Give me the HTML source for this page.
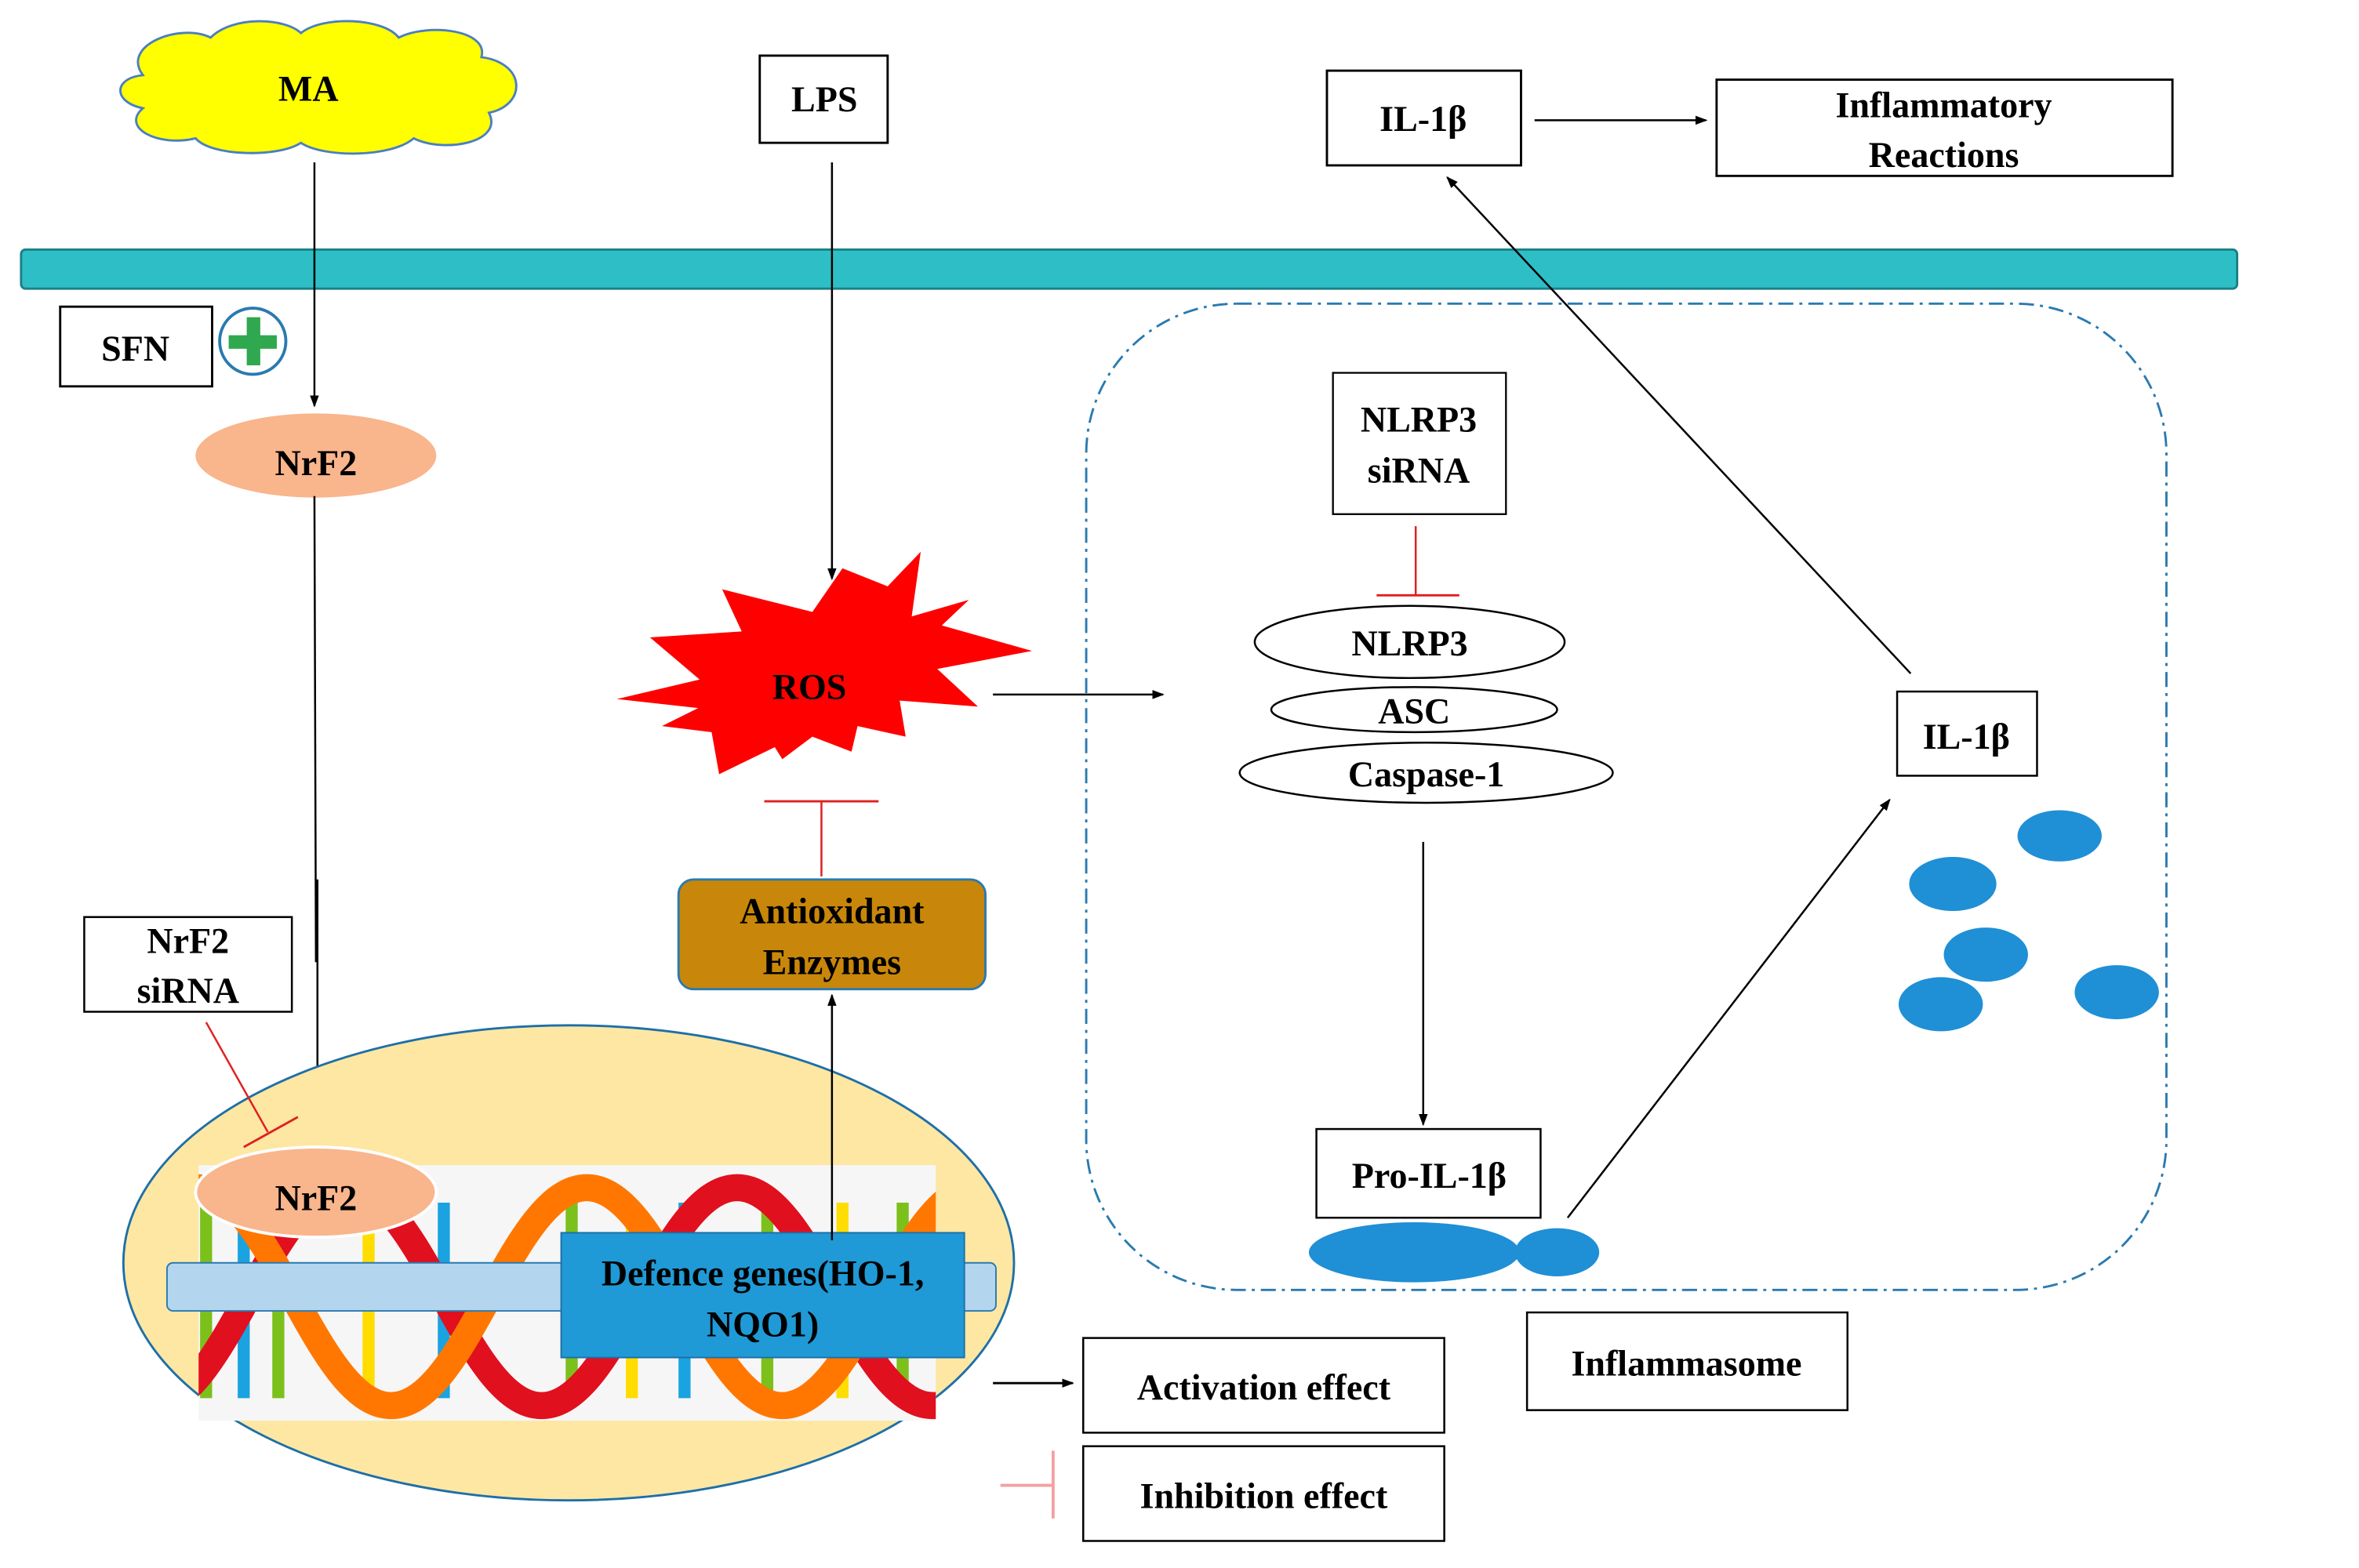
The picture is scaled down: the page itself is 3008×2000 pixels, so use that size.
<!DOCTYPE html>
<html><head><meta charset="utf-8"><style>
html,body{margin:0;padding:0;background:#fff;}
svg{display:block;}
text{font-family:"Liberation Serif","Times New Roman",Times,serif;font-weight:bold;fill:#000;}
</style></head><body>
<svg width="3008" height="2000" viewBox="0 0 1568 1043" preserveAspectRatio="none" xmlns="http://www.w3.org/2000/svg">
<defs>
<marker id="ar" markerWidth="8" markerHeight="8" refX="7" refY="4" orient="auto" markerUnits="userSpaceOnUse"><path d="M0,1 L8,4 L0,7 Z" fill="#000"/></marker>
<clipPath id="dna"><rect x="132" y="775" width="490" height="170"/></clipPath>
</defs>
<rect width="1568" height="1043" fill="#fff"/>

<g fill="#ffff00" stroke="#4a7fc0" stroke-width="1.5">
<path d="M95,50 C80,30 120,15 140,25 C155,10 190,12 200,22 C215,10 255,12 265,25 C285,15 325,20 320,38 C350,42 350,70 325,75 C335,95 295,102 275,92 C260,105 215,105 200,95 C185,105 140,104 130,92 C105,98 80,85 95,72 C75,68 75,52 95,50 Z"/>
</g>
<text x="205" y="67" font-size="24" text-anchor="middle">MA</text>

<rect x="505" y="37" width="85" height="58" fill="#fff" stroke="#000" stroke-width="1.5"/>
<text x="548" y="74" font-size="24" text-anchor="middle">LPS</text>

<rect x="882" y="47" width="129" height="63" fill="#fff" stroke="#000" stroke-width="1.5"/>
<text x="946" y="87" font-size="24" text-anchor="middle">IL-1β</text>
<line x1="1020" y1="80" x2="1134" y2="80" stroke="#000" stroke-width="1.3" marker-end="url(#ar)"/>
<rect x="1141" y="53" width="303" height="64" fill="#fff" stroke="#000" stroke-width="1.5"/>
<text x="1292" y="78" font-size="24" text-anchor="middle">Inflammatory</text>
<text x="1292" y="111" font-size="24" text-anchor="middle">Reactions</text>

<rect x="14" y="166" width="1473" height="26" rx="3" fill="#2ebfc6" stroke="#1a7f86" stroke-width="1.5"/>

<rect x="40" y="204" width="101" height="53" fill="#fff" stroke="#000" stroke-width="1.5"/>
<text x="90" y="240" font-size="24" text-anchor="middle">SFN</text>
<circle cx="168" cy="227" r="22" fill="#fff" stroke="#2a7ab0" stroke-width="2"/>
<rect x="152" y="223" width="32" height="9" fill="#2fa84f"/>
<rect x="164" y="211" width="9" height="32" fill="#2fa84f"/>

<line x1="209" y1="108" x2="209" y2="270" stroke="#000" stroke-width="1.3" marker-end="url(#ar)"/>
<ellipse cx="210" cy="303" rx="80" ry="28" fill="#f9b58c"/>
<text x="210" y="316" font-size="24" text-anchor="middle">NrF2</text>
<line x1="209" y1="330" x2="210" y2="640" stroke="#000" stroke-width="1.3"/>
<line x1="211" y1="585" x2="211" y2="768" stroke="#000" stroke-width="1.3" marker-end="url(#ar)"/>

<line x1="553" y1="108" x2="553" y2="385" stroke="#000" stroke-width="1.3" marker-end="url(#ar)"/>
<polygon fill="#ff0000" points="410,465 465,452 432,424 493,420 480,392 540,407 560,378 590,390 612,367 606,410 644,399 626,416 686,433 623,445 650,470 598,466 602,490 570,483 566,500 540,490 520,505 515,497 478,515 473,487 440,483 464,471" />
<text x="538" y="465" font-size="24" text-anchor="middle">ROS</text>
<line x1="660" y1="462" x2="773" y2="462" stroke="#000" stroke-width="1.3" marker-end="url(#ar)"/>

<rect x="722" y="202" width="718" height="656" rx="100" fill="none" stroke="#2a7ab0" stroke-width="1.5" stroke-dasharray="10,4,2,4"/>
<rect x="886" y="248" width="115" height="94" fill="#fff" stroke="#000" stroke-width="1.2"/>
<text x="943" y="287" font-size="24" text-anchor="middle">NLRP3</text>
<text x="943" y="321" font-size="24" text-anchor="middle">siRNA</text>
<line x1="941" y1="350" x2="941" y2="396" stroke="#e02020" stroke-width="1.3"/>
<line x1="915" y1="396" x2="970" y2="396" stroke="#e02020" stroke-width="1.5"/>
<ellipse cx="937" cy="427" rx="103" ry="24" fill="#fff" stroke="#000" stroke-width="1.3"/>
<text x="937" y="436" font-size="24" text-anchor="middle">NLRP3</text>
<ellipse cx="940" cy="472" rx="95" ry="15" fill="#fff" stroke="#000" stroke-width="1.3"/>
<text x="940" y="481" font-size="24" text-anchor="middle">ASC</text>
<ellipse cx="948" cy="514" rx="124" ry="20" fill="#fff" stroke="#000" stroke-width="1.3"/>
<text x="948" y="523" font-size="24" text-anchor="middle">Caspase-1</text>
<line x1="946" y1="560" x2="946" y2="748" stroke="#000" stroke-width="1.3" marker-end="url(#ar)"/>
<rect x="875" y="751" width="149" height="59" fill="#fff" stroke="#000" stroke-width="1.3"/>
<text x="950" y="790" font-size="24" text-anchor="middle">Pro-IL-1β</text>
<ellipse cx="940" cy="833" rx="70" ry="20" fill="#1f8fd6"/>
<ellipse cx="1035" cy="833" rx="28" ry="16" fill="#1f8fd6"/>
<line x1="1042" y1="810" x2="1256" y2="532" stroke="#000" stroke-width="1.3" marker-end="url(#ar)"/>
<rect x="1261" y="460" width="93" height="56" fill="#fff" stroke="#000" stroke-width="1.3"/>
<text x="1307" y="498" font-size="24" text-anchor="middle">IL-1β</text>
<line x1="1270" y1="448" x2="962" y2="118" stroke="#000" stroke-width="1.3" marker-end="url(#ar)"/>
<g fill="#1f8fd6">
<ellipse cx="1369" cy="556" rx="28" ry="17"/>
<ellipse cx="1298" cy="588" rx="29" ry="18"/>
<ellipse cx="1320" cy="635" rx="28" ry="18"/>
<ellipse cx="1290" cy="668" rx="28" ry="18"/>
<ellipse cx="1407" cy="660" rx="28" ry="18"/>
</g>
<rect x="1015" y="873" width="213" height="65" fill="#fff" stroke="#000" stroke-width="1.3"/>
<text x="1121" y="915" font-size="24" text-anchor="middle">Inflammasome</text>

<line x1="546" y1="583" x2="546" y2="533" stroke="#e02020" stroke-width="1.3"/>
<line x1="508" y1="533" x2="584" y2="533" stroke="#e02020" stroke-width="1.5"/>
<rect x="451" y="585" width="204" height="73" rx="10" fill="#c8870a" stroke="#2a7ab0" stroke-width="1.5"/>
<text x="553" y="614" font-size="24" text-anchor="middle">Antioxidant</text>
<text x="553" y="648" font-size="24" text-anchor="middle">Enzymes</text>

<ellipse cx="378" cy="840" rx="296" ry="158" fill="#fde7a3" stroke="#1e6fa8" stroke-width="1.5"/>
<rect x="132" y="775" width="490" height="170" fill="#f6f6f6"/>
<g clip-path="url(#dna)">
<g stroke-width="8">
<line x1="137" y1="800" x2="137" y2="930" stroke="#7cc01c"/>
<line x1="162" y1="800" x2="162" y2="930" stroke="#1aa3e0"/>
<line x1="185" y1="800" x2="185" y2="930" stroke="#7cc01c"/>
<line x1="245" y1="800" x2="245" y2="930" stroke="#ffdd00"/>
<line x1="295" y1="800" x2="295" y2="930" stroke="#1aa3e0"/>
<line x1="380" y1="800" x2="380" y2="930" stroke="#7cc01c"/>
<line x1="420" y1="800" x2="420" y2="930" stroke="#ffdd00"/>
<line x1="455" y1="800" x2="455" y2="930" stroke="#1aa3e0"/>
<line x1="510" y1="800" x2="510" y2="930" stroke="#7cc01c"/>
<line x1="560" y1="800" x2="560" y2="930" stroke="#ffdd00"/>
<line x1="600" y1="800" x2="600" y2="930" stroke="#7cc01c"/>
</g>
<path d="M100,935 C150,935 180,790 230,790 C280,790 310,935 360,935 C410,935 440,790 490,790 C540,790 570,935 620,935 C670,935 700,790 750,790" fill="none" stroke="#e0101e" stroke-width="18"/>
<path d="M130,790 C180,790 210,935 260,935 C310,935 340,790 390,790 C440,790 470,935 520,935 C570,935 600,790 650,790" fill="none" stroke="#ff7700" stroke-width="18"/>
</g>
<rect x="111" y="840" width="551" height="32" rx="4" fill="#b4d5ee" stroke="#2a7ab0" stroke-width="1"/>
<rect x="373" y="820" width="268" height="83" fill="#1f9ad6" stroke="#1e6fa8" stroke-width="1"/>
<text x="507" y="855" font-size="24" text-anchor="middle">Defence genes(HO-1,</text>
<text x="507" y="889" font-size="24" text-anchor="middle">NQO1)</text>
<line x1="553" y1="825" x2="553" y2="662" stroke="#000" stroke-width="1.3" marker-end="url(#ar)"/>
<ellipse cx="210" cy="793" rx="80" ry="30" fill="#f9b58c" stroke="#fff" stroke-width="2"/>
<text x="210" y="805" font-size="24" text-anchor="middle">NrF2</text>

<rect x="56" y="610" width="138" height="63" fill="#fff" stroke="#000" stroke-width="1.3"/>
<text x="125" y="634" font-size="24" text-anchor="middle">NrF2</text>
<text x="125" y="667" font-size="24" text-anchor="middle">siRNA</text>
<line x1="137" y1="680" x2="178" y2="753" stroke="#e02020" stroke-width="1.3"/>
<line x1="162" y1="763" x2="198" y2="743" stroke="#e02020" stroke-width="1.5"/>

<line x1="660" y1="920" x2="713" y2="920" stroke="#000" stroke-width="1.5" marker-end="url(#ar)"/>
<rect x="720" y="890" width="240" height="63" fill="#fff" stroke="#000" stroke-width="1.3"/>
<text x="840" y="931" font-size="24" text-anchor="middle">Activation effect</text>
<line x1="665" y1="988" x2="700" y2="988" stroke="#f4a0a0" stroke-width="2"/>
<line x1="700" y1="965" x2="700" y2="1010" stroke="#f4a0a0" stroke-width="2"/>
<rect x="720" y="962" width="240" height="63" fill="#fff" stroke="#000" stroke-width="1.3"/>
<text x="840" y="1003" font-size="24" text-anchor="middle">Inhibition effect</text>
</svg>
</body></html>
